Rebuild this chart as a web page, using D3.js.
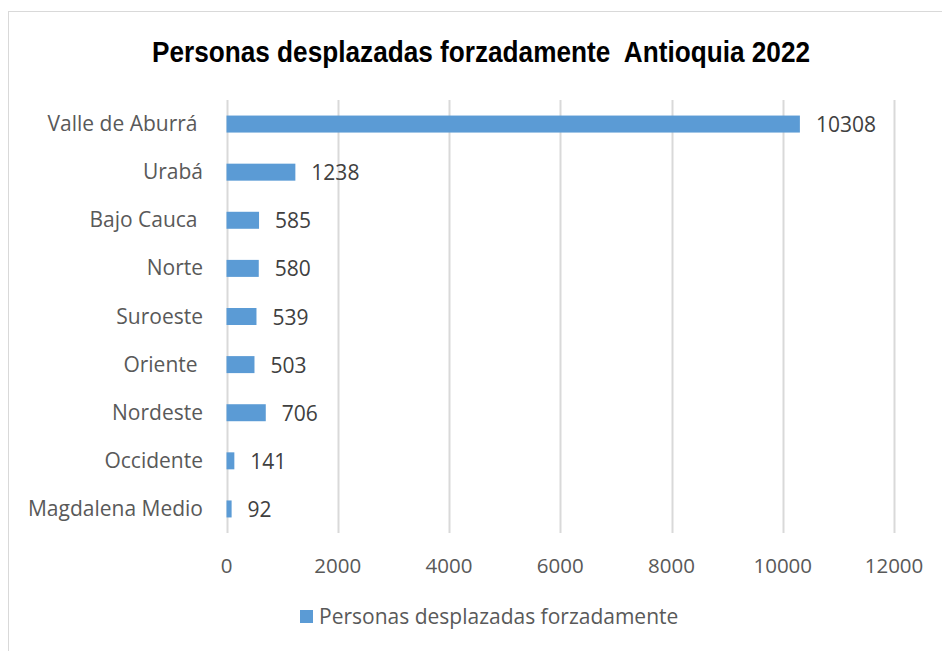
<!DOCTYPE html>
<html>
<head>
<meta charset="utf-8">
<script src="https://cdn.jsdelivr.net/npm/d3@7"></script>
<style>
  body { margin: 0; background: #fff; }
  text { white-space: pre; }
</style>
</head>
<body>
<svg id="chart" width="942" height="651"></svg>
<script>
var regiones = ["Valle de Aburrá ", "Urabá", "Bajo Cauca ", "Norte", "Suroeste", "Oriente ", "Nordeste", "Occidente", "Magdalena Medio"];
var personas = [10308, 1238, 585, 580, 539, 503, 706, 141, 92];
var ticks = [0, 2000, 4000, 6000, 8000, 10000, 12000];
var serie = "Personas desplazadas forzadamente";
var titulo = "Personas desplazadas forzadamente  Antioquia 2022";

var svg = d3.select("#chart"),
    width = +svg.attr("width"),
    height = +svg.attr("height");

var font = "'Open Sans', Lato, sans-serif";

// chart frame
svg.append("rect")
  .attr("x", 8.5).attr("y", 11.5)
  .attr("width", 960).attr("height", 700)
  .attr("fill", "#fff").attr("stroke", "#d9d9d9");

svg.append("text")
  .attr("x", 152).attr("y", 62)
  .attr("font-family", "'Liberation Sans', Arial, sans-serif")
  .attr("font-weight", "bold")
  .attr("font-size", 30)
  .attr("textLength", 658)
  .attr("lengthAdjust", "spacingAndGlyphs")
  .attr("fill", "#000")
  .text(titulo);

var x = d3.scaleLinear().domain([0, 12000]).range([226.5, 894]);
var band = (533 - 100) / regiones.length;

// gridlines
svg.append("g").selectAll("line").data(ticks).enter().append("line")
  .attr("x1", function(d){ return Math.round(x(d)) + 0.5; })
  .attr("x2", function(d){ return Math.round(x(d)) + 0.5; })
  .attr("y1", 100).attr("y2", 533)
  .attr("stroke", "#d9d9d9").attr("stroke-width", 2);

// x tick labels
svg.append("g").selectAll("text").data(ticks).enter().append("text")
  .attr("x", function(d){ return x(d); })
  .attr("y", 573)
  .attr("text-anchor", "middle")
  .attr("font-family", font).attr("font-size", 20.5)
  .attr("fill", "#595959")
  .text(function(d){ return d; });

// category labels
svg.append("g").selectAll("text").data(regiones).enter().append("text")
  .attr("x", 203)
  .attr("y", function(d, i){ return 100 + band * (i + 0.5) + 7; })
  .attr("text-anchor", "end")
  .attr("font-family", font).attr("font-size", 21)
  .attr("fill", "#595959")
  .text(function(d){ return d; });

// bars
svg.append("g").selectAll("rect").data(personas).enter().append("rect")
  .attr("x", x(0))
  .attr("y", function(d, i){ return 100 + band * (i + 0.5) - 8.5; })
  .attr("width", function(d){ return x(d) - x(0); })
  .attr("height", 17)
  .attr("fill", "#5b9bd5");

// data labels
svg.append("g").selectAll("text").data(personas).enter().append("text")
  .attr("x", function(d){ return x(d) + 16; })
  .attr("y", function(d, i){ return 100 + band * (i + 0.5) + 8; })
  .attr("font-family", font).attr("font-size", 21)
  .attr("fill", "#404040")
  .text(function(d){ return d; });

// legend
svg.append("rect")
  .attr("x", 300).attr("y", 610)
  .attr("width", 13).attr("height", 13)
  .attr("fill", "#5b9bd5");
svg.append("text")
  .attr("x", 319).attr("y", 624)
  .attr("font-family", font).attr("font-size", 21)
  .attr("fill", "#595959")
  .text(serie);
</script>
</body>
</html>
